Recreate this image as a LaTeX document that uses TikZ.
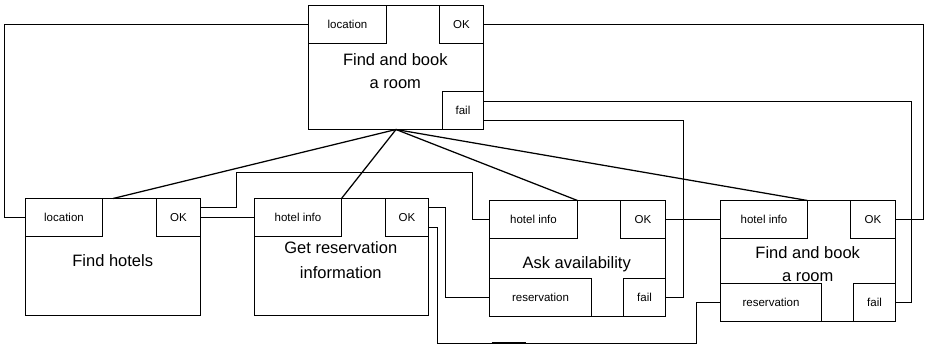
\documentclass[tikz,border=0pt]{standalone}
\usepackage{fontspec}
\setmainfont{Liberation Sans}
\begin{document}
\begin{tikzpicture}[x=1pt,y=-1pt,line width=1.25pt,
  blk/.style={draw,rectangle,inner sep=0pt,outer sep=0pt},
  port/.style={blk,font=\fontsize{11.5}{13}\selectfont,minimum height=38pt},
  title/.style={inner sep=0pt,outer sep=0pt,align=center,font=\fontsize{16.5}{23.5}\selectfont},
  link/.style={draw,line width=1.25pt}]
\useasboundingbox (0,0) rectangle (925,345);

% top box
\node[blk,minimum width=175pt,minimum height=124pt] (T) at (396,67.5) {};
\node[port,minimum width=78pt] (Tloc) at (347.5,24.5) {location};
\node[port,minimum width=44pt] (Tok) at (461.5,24.5) {OK};
\node[port,minimum width=41pt] (Tfail) at (463,110.5) {fail};
\node[title] (Tt) at (395.3,71.3) {Find and book\\a room};

% Find hotels
\node[blk,minimum width=175pt,minimum height=117pt] (FH) at (113,257) {};
\node[port,minimum width=77pt] (FHloc) at (64,217.5) {location};
\node[port,minimum width=44pt] (FHok) at (178.5,217.5) {OK};
\node[title] (FHt) at (112.7,260.5) {Find hotels};

% Get reservation information
\node[blk,minimum width=174pt,minimum height=117pt] (GR) at (341.5,257) {};
\node[port,minimum width=87pt] (GRhi) at (298,217.5) {hotel info};
\node[port,minimum width=43pt] (GRok) at (407,217.5) {OK};
\node[title,font=\fontsize{16.5}{24.8}\selectfont] (GRt) at (340.8,260.3) {Get reservation\\information};

% Ask availability
\node[blk,minimum width=176pt,minimum height=116pt] (AA) at (577.5,258.5) {};
\node[port,minimum width=88pt] (AAhi) at (533.5,219.5) {hotel info};
\node[port,minimum width=45pt] (AAok) at (643,219.5) {OK};
\node[port,minimum width=102pt] (AAres) at (540.5,297.5) {reservation};
\node[port,minimum width=42pt] (AAfail) at (644.5,297.5) {fail};
\node[title] (AAt) at (576.7,264.6) {Ask availability};

% Find and book a room (inner)
\node[blk,minimum width=175pt,minimum height=121pt] (R2) at (808,261) {};
\node[port,minimum width=87pt] (R2hi) at (764,219.5) {hotel info};
\node[port,minimum width=45pt] (R2ok) at (873,219.5) {OK};
\node[port,minimum width=101pt] (R2res) at (771,302.5) {reservation};
\node[port,minimum width=42pt] (R2fail) at (874.5,302.5) {fail};
\node[title] (R2t) at (807.7,264.3) {Find and book\\a room};

% decomposition lines
\draw[link] (T.south) -- (FH.north);
\draw[link] (T.south) -- (GRhi.north east);
\draw[link] (T.south) -- (AAhi.north east);
\draw[link] (T.south) -- (R2hi.north east);

% outer connections
\draw[link] (Tloc.west) -- ++(-304,0) |- (FHloc.west);
\draw[link] (Tok.east) -- ++(440,0) |- (R2ok.east);
\draw[link] ([yshift=9pt]Tfail.east) -- ++(428,0) |- (R2fail.east);
\draw[link] ([yshift=-10pt]Tfail.east) -- ++(200,0) |- (AAfail.east);

% data flow
\draw[link] ([yshift=10pt]FHok.east) -- ++(36,0) |- (472.5,172.5) |- (AAhi.west);
\draw[link] (FHok.east) -- (GRhi.west);
\draw[link] ([yshift=10pt]GRok.east) -- ++(17,0) |- (AAres.west);
\draw[link] ([yshift=-10pt]GRok.east) -- ++(9,0) |- (696.5,343.5) |- (R2res.west);
\draw[link] (AAok.east) -- (R2hi.west);

% thick segment on bottom line
\coordinate (thA) at (491.5,343);
\coordinate (thB) at (526,343);
\draw[line width=2.8pt] (thA) -- (thB);
\end{tikzpicture}
\end{document}
